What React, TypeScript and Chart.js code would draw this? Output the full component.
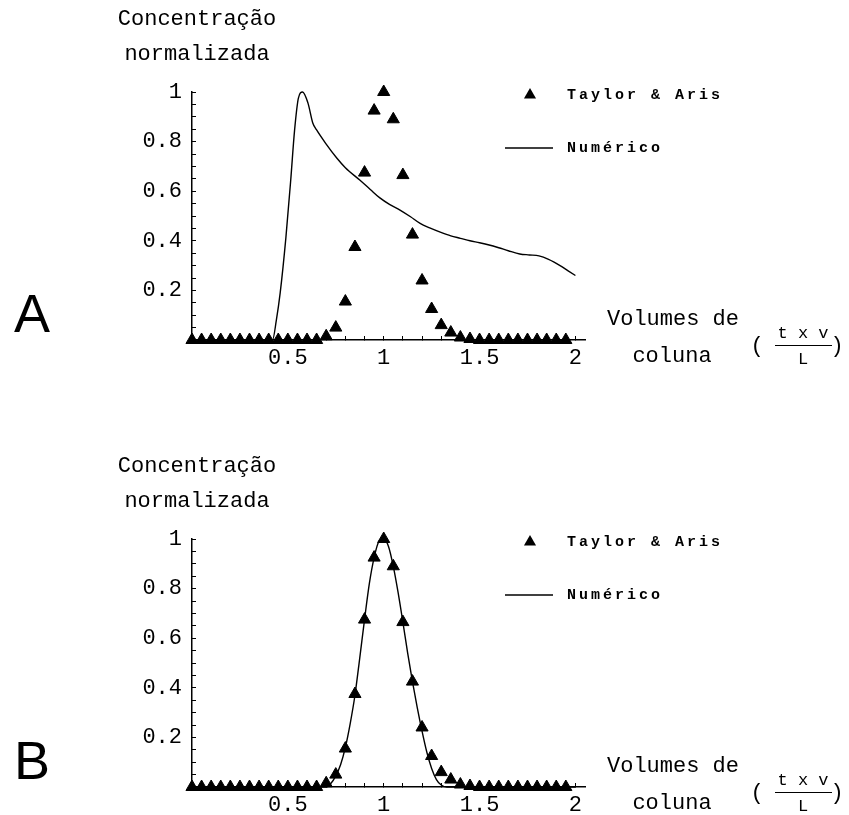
import React, { useEffect, useRef } from "react";
import { Chart, registerables } from "chart.js";

Chart.register(...registerables);

// ---------------- data ----------------
const seriesLabels = ["Taylor & Aris", "Numérico"];

const taylorX = [
  0, 0.05, 0.1, 0.15, 0.2, 0.25, 0.3, 0.35, 0.4, 0.45,
  0.5, 0.55, 0.6, 0.65, 0.7, 0.75, 0.8, 0.85, 0.9, 0.95,
  1.0, 1.05, 1.1, 1.15, 1.2, 1.25, 1.3, 1.35, 1.4, 1.45,
  1.5, 1.55, 1.6, 1.65, 1.7, 1.75, 1.8, 1.85, 1.9, 1.95,
];
const taylorY = [
  0, 0, 0, 0, 0, 0, 0, 0, 0, 0,
  0, 0, 0, 0, 0.015, 0.05, 0.155, 0.375, 0.675, 0.925,
  1.0, 0.89, 0.665, 0.425, 0.24, 0.125, 0.06, 0.03, 0.01, 0.004,
  0, 0, 0, 0, 0, 0, 0, 0, 0, 0,
];

const numericoAX = [
  0, 0.42, 0.44, 0.46, 0.49, 0.515, 0.535, 0.555, 0.577, 0.605,
  0.63, 0.65, 0.7, 0.755, 0.8, 0.875, 0.93, 0.98, 1.03, 1.085,
  1.14, 1.19, 1.24, 1.295, 1.35, 1.4, 1.45, 1.5, 1.55, 1.6,
  1.65, 1.71, 1.76, 1.81, 1.86, 1.92, 1.96, 2.0,
];
const numericoAY = [
  0, 0, 0.08, 0.19, 0.415, 0.645, 0.845, 0.975, 1.0, 0.955,
  0.875, 0.847, 0.79, 0.734, 0.695, 0.645, 0.607, 0.573, 0.547, 0.524,
  0.497, 0.47, 0.452, 0.435, 0.42, 0.41, 0.4, 0.392, 0.383, 0.372,
  0.36, 0.347, 0.343, 0.339, 0.325, 0.3, 0.28, 0.26,
];

const numericoBX = [
  0, 0.7, 0.725, 0.75, 0.775, 0.8, 0.825, 0.85, 0.875, 0.9,
  0.925, 0.95, 0.975, 1.0, 1.025, 1.05, 1.075, 1.1, 1.125, 1.15,
  1.175, 1.2, 1.225, 1.25, 1.275, 1.3, 1.33, 2.0,
];
const numericoBY = [
  0, 0, 0.015, 0.045, 0.09, 0.16, 0.255, 0.37, 0.52, 0.675,
  0.82, 0.925, 0.99, 1.0, 0.97, 0.89, 0.785, 0.665, 0.54, 0.425,
  0.32, 0.225, 0.14, 0.075, 0.03, 0.008, 0, 0,
];

const xTickValues = [
  0.1, 0.2, 0.3, 0.4, 0.5, 0.6, 0.7, 0.8, 0.9, 1.0,
  1.1, 1.2, 1.3, 1.4, 1.5, 1.6, 1.7, 1.8, 1.9, 2.0,
];
const xTickLabels = [
  "", "", "", "", "0.5", "", "", "", "", "1",
  "", "", "", "", "1.5", "", "", "", "", "2",
];
const yTickValues = [
  0.05, 0.1, 0.15, 0.2, 0.25, 0.3, 0.35, 0.4, 0.45, 0.5,
  0.55, 0.6, 0.65, 0.7, 0.75, 0.8, 0.85, 0.9, 0.95, 1.0,
];
const yTickLabels = [
  "", "", "", "0.2", "", "", "", "0.4", "", "",
  "", "0.6", "", "", "", "0.8", "", "", "", "1",
];

const yTitleLines = ["Concentração", "normalizada"];
const xTitleLines = ["Volumes de", "coluna"];
const fractionNumerator = "t x v";
const fractionDenominator = "L";
const panelLetters = ["A", "B"];

// ---------------- layout ----------------
const W = 849;
const PLOT_LEFT = 192;
const PLOT_RIGHT = 585;
const MONO = '"Liberation Mono", "DejaVu Sans Mono", monospace';

const panels = [
  { key: "A", canvasTop: 0, canvasHeight: 400, plotTop: 92, plotBottom: 340, xAxisH: 40, numX: numericoAX, numY: numericoAY, dy: 0 },
  { key: "B", canvasTop: 400, canvasHeight: 415, plotTop: 539, plotBottom: 787, xAxisH: 28, numX: numericoBX, numY: numericoBY, dy: 447 },
];

const mathLegend = {
  id: "mathLegend",
  afterDraw(chart: any, _args: any, opts: any) {
    const { ctx, chartArea } = chart;
    ctx.save();
    ctx.font = opts.font;
    ctx.fillStyle = "#000";
    ctx.strokeStyle = "#000";
    ctx.textBaseline = "middle";
    ctx.textAlign = "left";
    if ("letterSpacing" in ctx) (ctx as any).letterSpacing = opts.letterSpacing;
    chart.data.datasets.forEach((ds: any, i: number) => {
      const y = chartArea.top + opts.rows[i];
      if (ds.showLine) {
        ctx.lineWidth = ds.borderWidth;
        ctx.beginPath();
        ctx.moveTo(opts.lineX0, y);
        ctx.lineTo(opts.lineX1, y);
        ctx.stroke();
      } else {
        const r = ds.pointRadius;
        ctx.beginPath();
        ctx.moveTo(opts.markerX, y - r);
        ctx.lineTo(opts.markerX - r * 0.866, y + r * 0.5);
        ctx.lineTo(opts.markerX + r * 0.866, y + r * 0.5);
        ctx.closePath();
        ctx.fill();
      }
      ctx.fillText(ds.label, opts.textX, y);
    });
    ctx.restore();
  },
};

function Panel({ p }: { p: any }) {
  const ref = useRef<HTMLCanvasElement>(null);
  useEffect(() => {
    const canvas = ref.current!;
    const yW = 60;
    const padding = {
      left: PLOT_LEFT - yW,
      right: W - PLOT_RIGHT,
      top: p.plotTop - p.canvasTop,
      bottom: p.canvasTop + p.canvasHeight - p.plotBottom - p.xAxisH,
    };
    const chart = new Chart(canvas, {
      type: "scatter",
      data: {
        datasets: [
          {
            label: seriesLabels[0],
            data: taylorX.map((x, i) => ({ x, y: taylorY[i] })),
            pointStyle: "triangle",
            pointRadius: 7,
            pointBorderWidth: 1,
            backgroundColor: "#000",
            borderColor: "#000",
            showLine: false,
            clip: false,
          } as any,
          {
            label: seriesLabels[1],
            data: p.numX.map((x: number, i: number) => ({ x, y: p.numY[i] })),
            showLine: true,
            pointRadius: 0,
            borderColor: "#000",
            backgroundColor: "#000",
            borderWidth: 1.4,
            cubicInterpolationMode: "monotone",
            clip: false,
          } as any,
        ],
      },
      options: {
        responsive: false,
        maintainAspectRatio: false,
        animation: false,
        events: [],
        layout: { padding },
        plugins: {
          legend: { display: false },
          tooltip: { enabled: false },
          mathLegend: {
            font: `bold 15px ${MONO}`,
            letterSpacing: "3px",
            rows: [3, 56],
            markerX: 530,
            lineX0: 505,
            lineX1: 553,
            textX: 567,
          },
        } as any,
        scales: {
          x: {
            type: "linear",
            min: 0,
            max: 2.05,
            afterBuildTicks: (s: any) => {
              s.ticks = xTickValues.map((v) => ({ value: v }));
            },
            afterFit: (s: any) => {
              s.height = p.xAxisH;
            },
            ticks: {
              autoSkip: false,
              maxRotation: 0,
              padding: 9,
              color: "#000",
              font: { family: MONO, size: 22 },
              callback: (_v: any, i: number) => xTickLabels[i],
            },
            grid: { drawOnChartArea: false, drawTicks: true, tickLength: -4, tickColor: "#000", tickWidth: 1 },
            border: { display: true, color: "#000", width: 1.5 },
          },
          y: {
            type: "linear",
            min: 0,
            max: 1,
            afterBuildTicks: (s: any) => {
              s.ticks = yTickValues.map((v) => ({ value: v }));
            },
            afterFit: (s: any) => {
              s.width = yW;
            },
            ticks: {
              autoSkip: false,
              padding: 14,
              color: "#000",
              font: { family: MONO, size: 22 },
              callback: (_v: any, i: number) => yTickLabels[i],
            },
            grid: { drawOnChartArea: false, drawTicks: true, tickLength: -4, tickColor: "#000", tickWidth: 1 },
            border: { display: true, color: "#000", width: 1.5 },
          },
        },
      } as any,
      plugins: [mathLegend as any],
    });
    return () => chart.destroy();
  }, [p]);
  return (
    <canvas
      ref={ref}
      width={W}
      height={p.canvasHeight}
      style={{ position: "absolute", left: 0, top: p.canvasTop, width: W, height: p.canvasHeight }}
    />
  );
}

function Txt({ x, y, text, size, family, weight }: any) {
  return (
    <div
      style={{
        position: "absolute",
        left: x,
        top: y,
        transform: "translate(-50%, -50%)",
        whiteSpace: "pre",
        fontFamily: family || MONO,
        fontSize: size,
        fontWeight: weight || "normal",
        lineHeight: 1,
        color: "#000",
      }}
    >
      {text}
    </div>
  );
}

export default function App() {
  return (
    <div
      style={{
        position: "absolute",
        left: 0,
        top: 0,
        width: W,
        height: 815,
        background: "#fff",
        overflow: "hidden",
      }}
    >
      {panels.map((p) => (
        <Panel key={p.key} p={p} />
      ))}
      {panels.map((p, i) => (
        <React.Fragment key={"t" + p.key}>
          <Txt x={197} y={20 + p.dy} text={yTitleLines[0]} size={22} />
          <Txt x={197} y={55 + p.dy} text={yTitleLines[1]} size={22} />
          <Txt x={673} y={320 + p.dy} text={xTitleLines[0]} size={22} />
          <Txt x={672} y={357 + p.dy} text={xTitleLines[1]} size={22} />
          <Txt x={757} y={347 + p.dy} text="(" size={22} />
          <Txt x={803} y={333 + p.dy} text={fractionNumerator} size={17} />
          <div style={{ position: "absolute", left: 775, top: 345 + p.dy, width: 57, height: 1, background: "#000" }} />
          <Txt x={803} y={359 + p.dy} text={fractionDenominator} size={17} />
          <Txt x={837} y={347 + p.dy} text=")" size={22} />
          <Txt x={32} y={313 + p.dy} text={panelLetters[i]} size={54} family='"Liberation Sans", Arial, sans-serif' />
        </React.Fragment>
      ))}
    </div>
  );
}
